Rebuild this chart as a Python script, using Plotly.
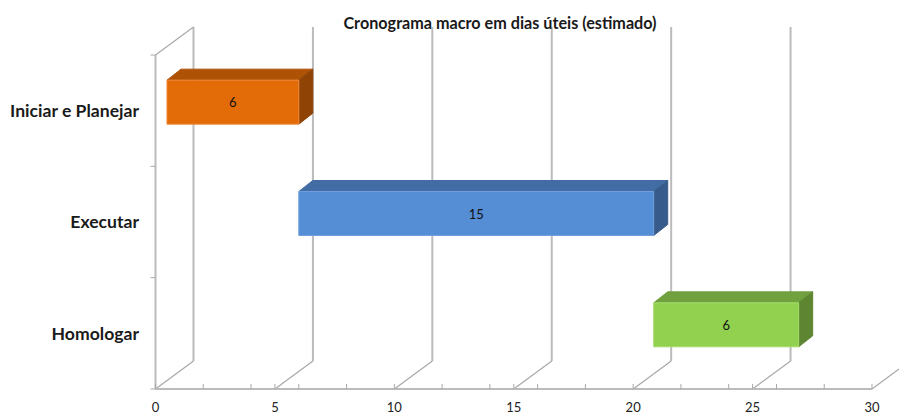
import plotly.graph_objects as go

categories = ["Iniciar e Planejar", "Executar", "Homologar"]
positions = [0, 1, 2]
starts = [0.48, 6.0, 20.86]
ends = [6.0, 20.86, 26.93]
labels = [6, 15, 6]
front_colors = ["#E36C09", "#558ED5", "#92D050"]
top_colors = ["#AE5206", "#426DA4", "#71A03E"]
side_colors = ["#8F4405", "#375B8A", "#5E8531"]
edge_colors = ["#F08A3C", "#6F9FDC", "#A5DC6A"]
major_ticks = [0, 5, 10, 15, 20, 25, 30]
minor_ticks = [2, 4, 6, 8, 12, 14, 16, 18, 22, 24, 26, 28]
band_edges = [-0.5, 0.5, 1.5, 2.5]

# one data unit in pixels, and the pixel box the axes must span
PX_X = 716.5 / 30
PX_Y = 334 / 3
LEFT, RIGHT, TOP, BOTTOM = 145, 899, 0, 392
ORIGIN_X, ORIGIN_Y = 155.5, 389

WALL_DX, WALL_DY = 38 / PX_X, 28 / PX_Y
BAR_DX, BAR_DY = 14 / PX_X, 11 / PX_Y
BAR_SHIFT = 8.5 / PX_Y
BAR_H = 44 / PX_Y
LABEL_SHIFT = 6.5 / PX_Y
XTICK, YTICK = 5 / PX_Y, 5 / PX_X
GRID = "#BBBBBB"
THIN = "#A8A8A8"

x_range = [(LEFT - ORIGIN_X) / PX_X, (RIGHT - ORIGIN_X) / PX_X]
y_range = [2.5 + (BOTTOM - ORIGIN_Y) / PX_Y, 2.5 + (TOP - ORIGIN_Y) / PX_Y]

fig = go.Figure()

def line(xs, ys, width, color=GRID):
    fig.add_trace(go.Scatter(x=xs, y=ys, mode="lines", showlegend=False,
                             hoverinfo="skip", line=dict(color=color, width=width)))

def poly(xs, ys, fill, edge=None):
    fig.add_trace(go.Scatter(x=xs, y=ys, mode="lines", fill="toself", fillcolor=fill,
                             showlegend=False, hoverinfo="skip",
                             line=dict(color=edge or fill, width=1)))

top_y, bottom_y = band_edges[0], band_edges[-1]
for t in major_ticks:
    if t < 30:
        line([t + WALL_DX, t + WALL_DX], [top_y - WALL_DY, bottom_y - WALL_DY], 2)
    line([t, t + WALL_DX], [bottom_y, bottom_y - WALL_DY], 1.2, THIN)
line([0, WALL_DX], [top_y, top_y - WALL_DY], 1.2, THIN)

line([0, 0], [top_y, bottom_y], 2)
line([0, 30], [bottom_y, bottom_y], 2)
for t in major_ticks + minor_ticks:
    line([t, t], [bottom_y, bottom_y - XTICK], 1, THIN)
for b in band_edges:
    line([-YTICK, 0], [b, b], 1, THIN)

for i, p in enumerate(positions):
    yb = p - BAR_SHIFT + BAR_H / 2
    yt = p - BAR_SHIFT - BAR_H / 2
    s, e = starts[i], ends[i]
    poly([s, s + BAR_DX, e + BAR_DX, e, s], [yt, yt - BAR_DY, yt - BAR_DY, yt, yt], top_colors[i])
    poly([e, e + BAR_DX, e + BAR_DX, e, e], [yt, yt - BAR_DY, yb - BAR_DY, yb, yt], side_colors[i])
    poly([s, e, e, s, s], [yt, yt, yb, yb, yt], front_colors[i], edge_colors[i])

fig.add_trace(go.Scatter(
    x=[(s + e) / 2 for s, e in zip(starts, ends)],
    y=[p - LABEL_SHIFT for p in positions],
    mode="text", text=[str(v) for v in labels], showlegend=False, hoverinfo="skip",
    textposition="middle center", textfont=dict(family="Lato", size=13, color="#111111")))

fig.update_layout(
    width=899, height=412,
    margin=dict(l=LEFT, r=899 - RIGHT, t=TOP, b=412 - BOTTOM, autoexpand=False, pad=0),
    paper_bgcolor="white", plot_bgcolor="white",
    title=dict(text="<b>Cronograma macro em dias úteis (estimado)</b>", x=500 / 899, y=1 - 23.5 / 412,
               xanchor="center", yanchor="middle", font=dict(family="Lato", size=16.2, color="#1a1a1a")),
    xaxis=dict(range=x_range, tickvals=major_ticks, ticktext=[str(t) for t in major_ticks],
               showgrid=False, zeroline=False, showline=False, ticks="", automargin=False,
               ticklabelstandoff=6, tickfont=dict(family="Lato", size=13, color="#222222")),
    yaxis=dict(range=y_range, tickvals=positions, ticktext=[f"<b>{c}</b>" for c in categories],
               showgrid=False, zeroline=False, showline=False, ticks="", automargin=False,
               ticklabelstandoff=5, tickfont=dict(family="Lato", size=17.6, color="#1a1a1a")),
)

fig.write_html("out.html", config={"displayModeBar": False},
               post_script="document.body.style.margin='0';document.body.style.overflow='hidden';")
